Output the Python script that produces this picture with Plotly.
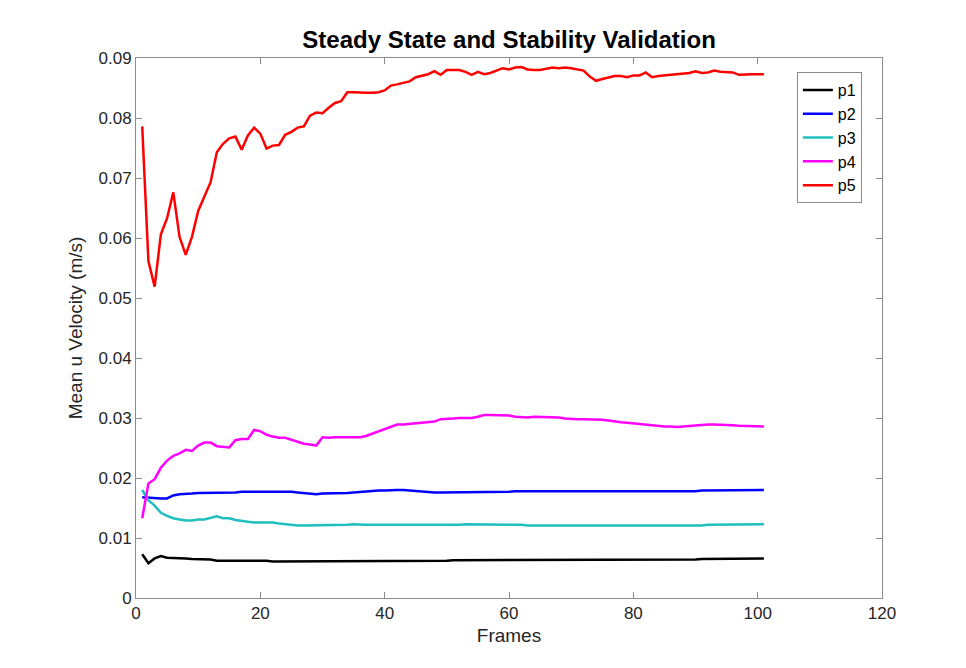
import plotly.graph_objects as go

# Frame index (x) for every series
frames = list(range(1, 102))

p1 = [0.0073, 0.0058, 0.0066, 0.0070, 0.0067, 0.0067, 0.0066, 0.0066, 0.0065, 0.0065,
      0.0064, 0.0064, 0.0062, 0.0062, 0.0063, 0.0062, 0.0062, 0.0062, 0.0062, 0.0062,
      0.0062, 0.0061, 0.0061, 0.0061, 0.0061, 0.0061, 0.0061, 0.0062, 0.0061, 0.0061,
      0.0061, 0.0061, 0.0061, 0.0061, 0.0061, 0.0062, 0.0062, 0.0061, 0.0062, 0.0062,
      0.0062, 0.0062, 0.0062, 0.0062, 0.0062, 0.0062, 0.0062, 0.0062, 0.0062, 0.0062,
      0.0063, 0.0063, 0.0063, 0.0063, 0.0063, 0.0063, 0.0063, 0.0063, 0.0063, 0.0063,
      0.0063, 0.0063, 0.0063, 0.0063, 0.0063, 0.0063, 0.0063, 0.0063, 0.0063, 0.0064,
      0.0064, 0.0064, 0.0064, 0.0064, 0.0064, 0.0064, 0.0064, 0.0064, 0.0064, 0.0064,
      0.0064, 0.0064, 0.0064, 0.0064, 0.0064, 0.0064, 0.0064, 0.0064, 0.0064, 0.0064,
      0.0065, 0.0065, 0.0065, 0.0065, 0.0065, 0.0065, 0.0065, 0.0066, 0.0066, 0.0066,
      0.0066]

p2 = [0.0168, 0.0167, 0.0166, 0.0166, 0.0166, 0.0171, 0.0173, 0.0173, 0.0174, 0.0175,
      0.0175, 0.0176, 0.0176, 0.0176, 0.0176, 0.0176, 0.0177, 0.0177, 0.0177, 0.0178,
      0.0178, 0.0178, 0.0177, 0.0177, 0.0177, 0.0176, 0.0175, 0.0174, 0.0173, 0.0174,
      0.0174, 0.0174, 0.0174, 0.0175, 0.0176, 0.0177, 0.0177, 0.0178, 0.0179, 0.0179,
      0.0180, 0.0180, 0.0180, 0.0179, 0.0178, 0.0177, 0.0177, 0.0176, 0.0176, 0.0176,
      0.0176, 0.0176, 0.0176, 0.0176, 0.0177, 0.0177, 0.0177, 0.0177, 0.0177, 0.0177,
      0.0178, 0.0178, 0.0178, 0.0178, 0.0178, 0.0178, 0.0178, 0.0178, 0.0178, 0.0178,
      0.0177, 0.0177, 0.0177, 0.0177, 0.0177, 0.0177, 0.0178, 0.0178, 0.0178, 0.0178,
      0.0178, 0.0178, 0.0178, 0.0178, 0.0178, 0.0178, 0.0178, 0.0178, 0.0178, 0.0178,
      0.0179, 0.0179, 0.0179, 0.0179, 0.0179, 0.0179, 0.0179, 0.0180, 0.0180, 0.0180,
      0.0180]

p3 = [0.0180, 0.0163, 0.0154, 0.0142, 0.0137, 0.0133, 0.0131, 0.0129, 0.0129, 0.0131,
      0.0131, 0.0133, 0.0136, 0.0133, 0.0133, 0.0130, 0.0128, 0.0127, 0.0126, 0.0126,
      0.0126, 0.0126, 0.0124, 0.0123, 0.0121, 0.0121, 0.0121, 0.0121, 0.0122, 0.0122,
      0.0122, 0.0122, 0.0122, 0.0122, 0.0123, 0.0122, 0.0122, 0.0122, 0.0122, 0.0122,
      0.0122, 0.0121, 0.0121, 0.0121, 0.0121, 0.0122, 0.0122, 0.0122, 0.0122, 0.0122,
      0.0122, 0.0122, 0.0123, 0.0123, 0.0123, 0.0123, 0.0123, 0.0123, 0.0122, 0.0122,
      0.0122, 0.0122, 0.0121, 0.0121, 0.0121, 0.0121, 0.0121, 0.0121, 0.0121, 0.0121,
      0.0121, 0.0121, 0.0121, 0.0120, 0.0120, 0.0120, 0.0120, 0.0120, 0.0120, 0.0120,
      0.0120, 0.0120, 0.0121, 0.0121, 0.0121, 0.0121, 0.0121, 0.0121, 0.0121, 0.0121,
      0.0121, 0.0122, 0.0122, 0.0122, 0.0122, 0.0122, 0.0122, 0.0123, 0.0123, 0.0123,
      0.0123]

p4 = [0.0133, 0.0191, 0.0198, 0.0217, 0.0229, 0.0237, 0.0241, 0.0247, 0.0245, 0.0254,
      0.0259, 0.0259, 0.0253, 0.0252, 0.0251, 0.0263, 0.0265, 0.0265, 0.0280, 0.0278,
      0.0272, 0.0269, 0.0267, 0.0267, 0.0264, 0.0261, 0.0257, 0.0256, 0.0254, 0.0268,
      0.0267, 0.0268, 0.0268, 0.0267, 0.0268, 0.0268, 0.0270, 0.0274, 0.0278, 0.0282,
      0.0286, 0.0289, 0.0289, 0.0290, 0.0292, 0.0293, 0.0294, 0.0294, 0.0298, 0.0298,
      0.0299, 0.0300, 0.0300, 0.0300, 0.0302, 0.0305, 0.0305, 0.0305, 0.0305, 0.0304,
      0.0302, 0.0301, 0.0301, 0.0302, 0.0302, 0.0302, 0.0302, 0.0301, 0.0299, 0.0298,
      0.0298, 0.0298, 0.0298, 0.0297, 0.0297, 0.0296, 0.0294, 0.0293, 0.0292, 0.0291,
      0.0290, 0.0288, 0.0287, 0.0286, 0.0286, 0.0286, 0.0285, 0.0286, 0.0287, 0.0287,
      0.0288, 0.0289, 0.0289, 0.0289, 0.0288, 0.0288, 0.0287, 0.0287, 0.0286, 0.0286,
      0.0286]

p5 = [0.0786, 0.0561, 0.0519, 0.0606, 0.0633, 0.0676, 0.0602, 0.0572, 0.0602, 0.0645,
      0.0669, 0.0693, 0.0743, 0.0757, 0.0766, 0.0769, 0.0747, 0.0771, 0.0784, 0.0774,
      0.0749, 0.0754, 0.0755, 0.0772, 0.0777, 0.0784, 0.0786, 0.0804, 0.0809, 0.0808,
      0.0817, 0.0825, 0.0828, 0.0843, 0.0843, 0.0842, 0.0842, 0.0842, 0.0843, 0.0846,
      0.0854, 0.0856, 0.0859, 0.0861, 0.0868, 0.0871, 0.0873, 0.0878, 0.0872, 0.0880,
      0.0880, 0.0880, 0.0877, 0.0872, 0.0877, 0.0873, 0.0875, 0.0879, 0.0883, 0.0881,
      0.0884, 0.0885, 0.0881, 0.0880, 0.0880, 0.0882, 0.0884, 0.0883, 0.0884, 0.0883,
      0.0881, 0.0879, 0.0869, 0.0862, 0.0865, 0.0867, 0.0870, 0.0870, 0.0868, 0.0871,
      0.0871, 0.0876, 0.0868, 0.0870, 0.0871, 0.0872, 0.0874, 0.0874, 0.0875, 0.0878,
      0.0875, 0.0876, 0.0879, 0.0877, 0.0876, 0.0876, 0.0872, 0.0873, 0.0873, 0.0873,
      0.0873]

series_names = ["p1", "p2", "p3", "p4", "p5"]
series_values = [p1, p2, p3, p4, p5]
series_colors = ["#000000", "#0000ff", "#1fbfbf", "#ff00ff", "#ff0000"]

x_ticks = [0, 20, 40, 60, 80, 100, 120]
y_ticks = [0, 0.01, 0.02, 0.03, 0.04, 0.05, 0.06, 0.07, 0.08, 0.09]
y_tick_labels = ["0", "0.01", "0.02", "0.03", "0.04", "0.05", "0.06", "0.07", "0.08", "0.09"]

FONT = "Liberation Sans, Arial, Helvetica, sans-serif"
AXIS_GREY = "#8c8c8c"
TEXT_GREY = "#262626"

fig = go.Figure()
for name, vals, col in zip(series_names, series_values, series_colors):
    fig.add_trace(go.Scatter(
        x=frames, y=vals, mode="lines", name=name,
        line=dict(color=col, width=2.5),
    ))

axis_common = dict(
    showgrid=False, zeroline=False, showline=True, linecolor=AXIS_GREY, linewidth=1,
    mirror="ticks", ticks="inside", ticklen=6, tickcolor=AXIS_GREY, tickwidth=1,
    tickfont=dict(family=FONT, size=17, color=TEXT_GREY),
)

fig.update_layout(
    width=966, height=668,
    margin=dict(l=136, r=84, t=58, b=70),
    paper_bgcolor="white", plot_bgcolor="white",
    title=dict(
        text="<b>Steady State and Stability Validation</b>",
        x=0.527, xanchor="center", y=0.94, yanchor="middle",
        font=dict(family=FONT, size=24, color="#000000"),
    ),
    xaxis=dict(
        range=[0, 120], tickvals=x_ticks,
        title=dict(text="Frames", font=dict(family=FONT, size=19, color=TEXT_GREY), standoff=6),
        **axis_common,
    ),
    yaxis=dict(
        range=[0, 0.09], tickvals=y_ticks, ticktext=y_tick_labels,
        title=dict(text="Mean u Velocity (m/s)", font=dict(family=FONT, size=19, color=TEXT_GREY), standoff=10),
        **axis_common,
    ),
    legend=dict(
        x=0.973, y=0.974, xanchor="right", yanchor="top",
        bgcolor="white", bordercolor=AXIS_GREY, borderwidth=1,
        font=dict(family=FONT, size=16, color="#000000"),
        tracegroupgap=0, itemwidth=30,
    ),
    showlegend=True,
)

fig.write_html("out.html")
